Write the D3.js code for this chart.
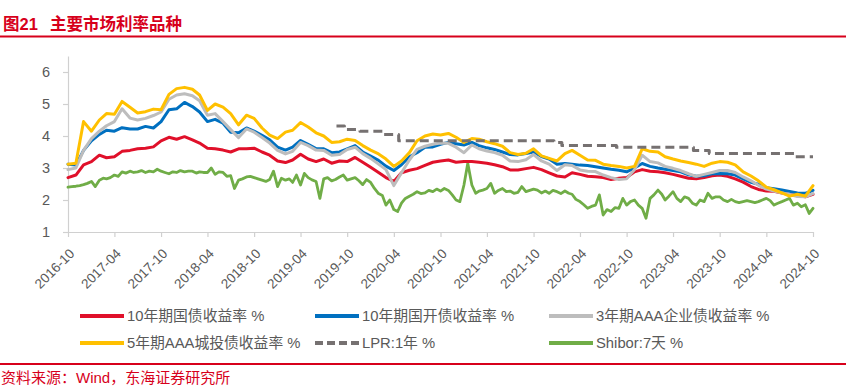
<!DOCTYPE html>
<html><head><meta charset="utf-8">
<script src="https://cdn.jsdelivr.net/npm/d3@7"></script>
<style>body{margin:0;background:#fff;}svg{display:block;}</style>
</head><body>
<svg id="c" width="848" height="391"></svg>
<script>
// ---------- DATA ----------
const startMonth = "2016-10";   // first month of monthly series
const monthCount = 97;          // 2016-10 ... 2024-10
const tickLabels = ["2016-10","2017-04","2017-10","2018-04","2018-10","2019-04","2019-10","2020-04","2020-10","2021-04","2021-10","2022-04","2022-10","2023-04","2023-10","2024-04","2024-10"];
const yTicks = [1,2,3,4,5,6];

const seriesNames = ["10年期国债收益率 %","10年期国开债收益率 %","3年期AAA企业债收益率 %","5年期AAA城投债收益率 %","LPR:1年 %","Shibor:7天 %"];

const cgb10 = [2.70,2.78,3.10,3.20,3.40,3.32,3.35,3.52,3.55,3.60,
  3.62,3.66,3.85,3.96,3.90,3.98,3.88,3.78,3.62,3.60,
  3.56,3.50,3.60,3.60,3.62,3.50,3.40,3.22,3.17,3.25,
  3.43,3.28,3.20,3.28,3.15,3.22,3.20,3.33,3.18,3.02,
  2.86,2.70,2.58,2.85,2.93,2.98,3.08,3.18,3.22,3.25,
  3.18,3.20,3.20,3.18,3.15,3.10,3.04,2.94,2.94,2.98,
  3.02,2.95,2.85,2.75,2.72,2.85,2.80,2.74,2.73,2.70,
  2.64,2.68,2.70,2.88,2.95,2.90,2.88,2.85,2.80,2.74,
  2.68,2.66,2.70,2.76,2.78,2.74,2.66,2.56,2.42,2.33,
  2.28,2.27,2.22,2.17,2.13,2.10,2.18];
const cdb10 = [3.12,3.09,3.55,3.85,4.05,4.18,4.15,4.26,4.22,4.22,
  4.30,4.25,4.45,4.82,4.85,5.05,4.92,4.75,4.45,4.52,
  4.40,4.12,4.10,4.25,4.15,4.02,3.88,3.65,3.56,3.65,
  3.86,3.74,3.61,3.60,3.48,3.50,3.60,3.70,3.50,3.37,
  3.24,3.06,2.92,3.10,3.35,3.48,3.65,3.66,3.74,3.80,
  3.76,3.72,3.80,3.70,3.63,3.58,3.50,3.42,3.41,3.45,
  3.50,3.36,3.28,3.12,3.14,3.12,3.09,3.08,3.04,3.00,
  2.96,2.93,2.88,3.00,3.14,3.05,3.00,2.96,2.92,2.88,
  2.79,2.74,2.76,2.82,2.83,2.82,2.78,2.66,2.55,2.49,
  2.38,2.35,2.31,2.27,2.22,2.21,2.30];
const corp3 = [2.95,3.00,3.55,3.92,4.15,4.32,4.45,4.85,4.56,4.50,
  4.55,4.64,4.75,5.15,5.28,5.32,5.26,5.10,4.65,4.70,
  4.45,4.20,3.95,4.22,4.12,3.95,3.78,3.55,3.44,3.52,
  3.80,3.70,3.56,3.55,3.40,3.42,3.58,3.65,3.45,3.30,
  3.12,2.95,2.45,2.85,3.25,3.58,3.68,3.74,3.78,3.77,
  3.65,3.48,3.72,3.60,3.53,3.48,3.40,3.22,3.20,3.26,
  3.42,3.22,3.12,2.92,3.10,3.08,2.94,2.90,2.89,2.78,
  2.70,2.64,2.66,2.95,3.40,3.20,3.16,3.05,2.99,2.92,
  2.82,2.74,2.80,2.86,2.92,2.92,2.86,2.72,2.60,2.46,
  2.34,2.28,2.22,2.17,2.11,2.10,2.20];
const lgfv5 = [3.12,3.15,4.45,4.15,4.50,4.70,4.68,5.08,4.90,4.72,
  4.76,4.84,4.82,5.30,5.48,5.52,5.46,5.28,4.80,5.00,
  4.90,4.70,4.35,4.65,4.55,4.25,4.03,3.92,4.12,4.18,
  4.42,4.28,4.10,4.00,3.80,3.82,3.90,3.86,3.70,3.56,
  3.44,3.28,3.05,3.22,3.48,3.85,4.00,4.06,4.03,4.08,
  3.96,3.80,3.92,3.90,3.82,3.76,3.68,3.48,3.42,3.46,
  3.60,3.38,3.30,3.22,3.45,3.55,3.40,3.25,3.24,3.12,
  3.08,3.05,3.00,3.05,3.60,3.52,3.50,3.35,3.28,3.22,
  3.17,3.12,3.05,3.15,3.20,3.18,3.10,2.88,2.75,2.60,
  2.40,2.32,2.22,2.12,2.18,2.12,2.45];

// LPR 1Y: change dates and levels
const lprDates = ["2019-08-20","2019-09-20","2019-11-20","2020-02-20","2020-04-20","2021-12-20","2022-01-20","2022-08-22","2023-06-20","2023-08-21","2024-07-22","2024-10-01"];
const lprValues = [4.31,4.20,4.15,4.05,3.85,3.80,3.70,3.65,3.55,3.45,3.35,3.35];

// Shibor 7D, twice a month (1st and 16th) from 2016-10-01
const shibor7d = [2.40,2.42,2.43,2.45,2.48,2.52,2.58,2.42,2.62,2.68,
  2.66,2.70,2.78,2.74,2.88,2.84,2.90,2.86,2.88,2.92,
  2.86,2.90,2.88,2.96,2.90,2.86,2.82,2.88,2.86,2.92,
  2.88,2.90,2.90,2.84,2.88,2.86,2.86,3.00,2.80,2.88,
  2.86,2.74,2.76,2.36,2.62,2.66,2.72,2.74,
  2.70,2.66,2.62,2.58,2.64,2.90,2.42,2.68,2.62,2.66,
  2.55,2.78,2.47,2.83,2.70,2.63,2.58,2.05,2.66,2.70,
  2.60,2.64,2.72,2.78,2.62,2.66,2.70,2.60,2.48,2.64,
  2.55,2.36,2.20,2.14,1.84,2.00,1.70,1.64,1.90,2.05,
  2.12,2.18,2.26,2.20,2.22,2.30,2.26,2.34,
  2.28,2.36,2.30,2.16,2.00,1.95,2.47,3.15,2.47,2.21,
  2.28,2.31,2.36,2.52,2.21,2.30,2.36,2.26,2.28,2.21,
  2.24,2.42,2.26,2.30,2.34,2.31,2.22,2.28,2.21,2.30,
  2.26,2.20,2.28,2.21,2.18,2.02,1.95,1.85,1.74,1.80,
  1.84,2.16,1.53,1.70,1.64,1.76,1.74,2.05,1.84,1.95,
  2.00,1.84,1.74,1.43,2.05,2.16,2.31,2.18,2.00,2.12,
  2.26,2.05,1.95,2.10,2.05,1.90,1.84,2.00,1.95,2.21,
  2.05,2.10,2.10,2.00,1.95,2.02,1.95,1.92,1.95,1.98,
  1.95,1.92,1.95,2.00,2.05,1.98,1.84,1.90,1.95,2.00,
  2.05,1.84,1.90,1.79,1.85,1.58,1.74];

const colors = ["#E0102A","#0070C0","#BDBDBD","#FFC000","#767171","#70AD47"];

// ---------- CHART ----------
const parseM = d3.timeParse("%Y-%m");
const parseD = d3.timeParse("%Y-%m-%d");
const start = parseM(startMonth);
const monthDates = d3.range(monthCount).map(i => d3.timeMonth.offset(start, i));
const halfDates = shibor7d.map((v, i) => {
  const d = d3.timeMonth.offset(start, Math.floor(i / 2));
  return i % 2 ? d3.timeDay.offset(d, 15) : d;
});

const svg = d3.select("#c");
const W = 848, H = 391;
svg.append("rect").attr("width", W).attr("height", H).attr("fill", "#fff");

const FONT = "'Liberation Sans', Arial, 'Noto Sans CJK SC', sans-serif";
const RED = "#D7001B";

// Title
svg.append("text").attr("x", 3).attr("y", 30).text("图21")
  .attr("font-family", FONT).attr("font-weight", "bold").attr("font-size", 16.5).attr("fill", RED);
svg.append("text").attr("x", 50).attr("y", 30).text("主要市场利率品种")
  .attr("font-family", FONT).attr("font-weight", "bold").attr("font-size", 16.5).attr("fill", RED);
svg.append("line").attr("x1", 0).attr("x2", 846).attr("y1", 36.5).attr("y2", 36.5)
  .attr("stroke", RED).attr("stroke-width", 2.2);

// Scales
const x = d3.scaleTime().domain([parseM(tickLabels[0]), parseM(tickLabels[tickLabels.length - 1])]).range([68, 813]);
const y = d3.scaleLinear().domain([1, 6.5]).range([232, 56]);

// Y axis
const gy = svg.append("g").attr("transform", "translate(68,0)")
  .call(d3.axisLeft(y).tickValues(yTicks).tickFormat(d3.format("d")).tickSize(5).tickSizeOuter(0).tickPadding(13));
gy.select(".domain").attr("stroke", "#D0D0D0").attr("stroke-width", 1.2);
gy.selectAll(".tick line").attr("stroke", "#D0D0D0").attr("stroke-width", 1.2);
gy.selectAll(".tick text").attr("font-family", FONT).attr("font-size", 14.5).attr("fill", "#595959");

// X axis
const gx = svg.append("g").attr("transform", "translate(0,232)")
  .call(d3.axisBottom(x).tickValues(tickLabels.map(parseM)).tickSize(5).tickSizeOuter(0).tickFormat(""));
gx.select(".domain").attr("stroke", "#D0D0D0").attr("stroke-width", 1.2);
gx.selectAll(".tick line").attr("stroke", "#D0D0D0").attr("stroke-width", 1.2);
svg.append("g").selectAll("text").data(tickLabels).join("text")
  .attr("transform", d => `translate(${x(parseM(d)) + 4},${251}) rotate(-45)`)
  .attr("text-anchor", "end").attr("dy", "0.35em")
  .attr("font-family", FONT).attr("font-size", 13.5).attr("fill", "#595959")
  .text(d => d);

// Lines
const lineM = d3.line().x((d, i) => x(monthDates[i])).y(d => y(d));
const plot = svg.append("g").attr("fill", "none").attr("stroke-linejoin", "round").attr("stroke-linecap", "round");
// Shibor
plot.append("path").datum(shibor7d)
  .attr("d", d3.line().x((d, i) => x(halfDates[i])).y(d => y(d)))
  .attr("stroke", colors[5]).attr("stroke-width", 2.8);
[cgb10, cdb10, corp3, lgfv5].forEach((s, k) => {
  plot.append("path").datum(s).attr("d", lineM).attr("stroke", colors[k]).attr("stroke-width", 3);
});
// LPR
plot.append("path").datum(lprValues)
  .attr("d", d3.line().curve(d3.curveStepAfter).x((d, i) => x(parseD(lprDates[i]))).y(d => y(d)))
  .attr("stroke", colors[4]).attr("stroke-width", 3).attr("stroke-dasharray", "9,5").attr("stroke-linecap", "butt");

// Legend
const legPos = [[80, 316], [315, 316], [549, 316], [80, 343], [315, 343], [549, 343]];
const leg = svg.append("g");
seriesNames.forEach((name, i) => {
  const [lx, ly] = legPos[i];
  const ln = leg.append("line").attr("x1", lx).attr("x2", lx + 44).attr("y1", ly).attr("y2", ly)
    .attr("stroke", colors[i]).attr("stroke-width", 4);
  if (i === 4) ln.attr("stroke-dasharray", "8,4");
  leg.append("text").attr("x", lx + 47).attr("y", ly).attr("dy", "0.36em").text(name)
    .attr("font-family", FONT).attr("font-size", 14.8).attr("fill", "#595959");
});

// Source
svg.append("line").attr("x1", 0).attr("x2", 846).attr("y1", 364).attr("y2", 364)
  .attr("stroke", RED).attr("stroke-width", 2.2);
svg.append("text").attr("x", 1).attr("y", 383).text("资料来源：Wind，东海证券研究所")
  .attr("font-family", FONT).attr("font-size", 15).attr("fill", RED);
</script>
</body></html>
